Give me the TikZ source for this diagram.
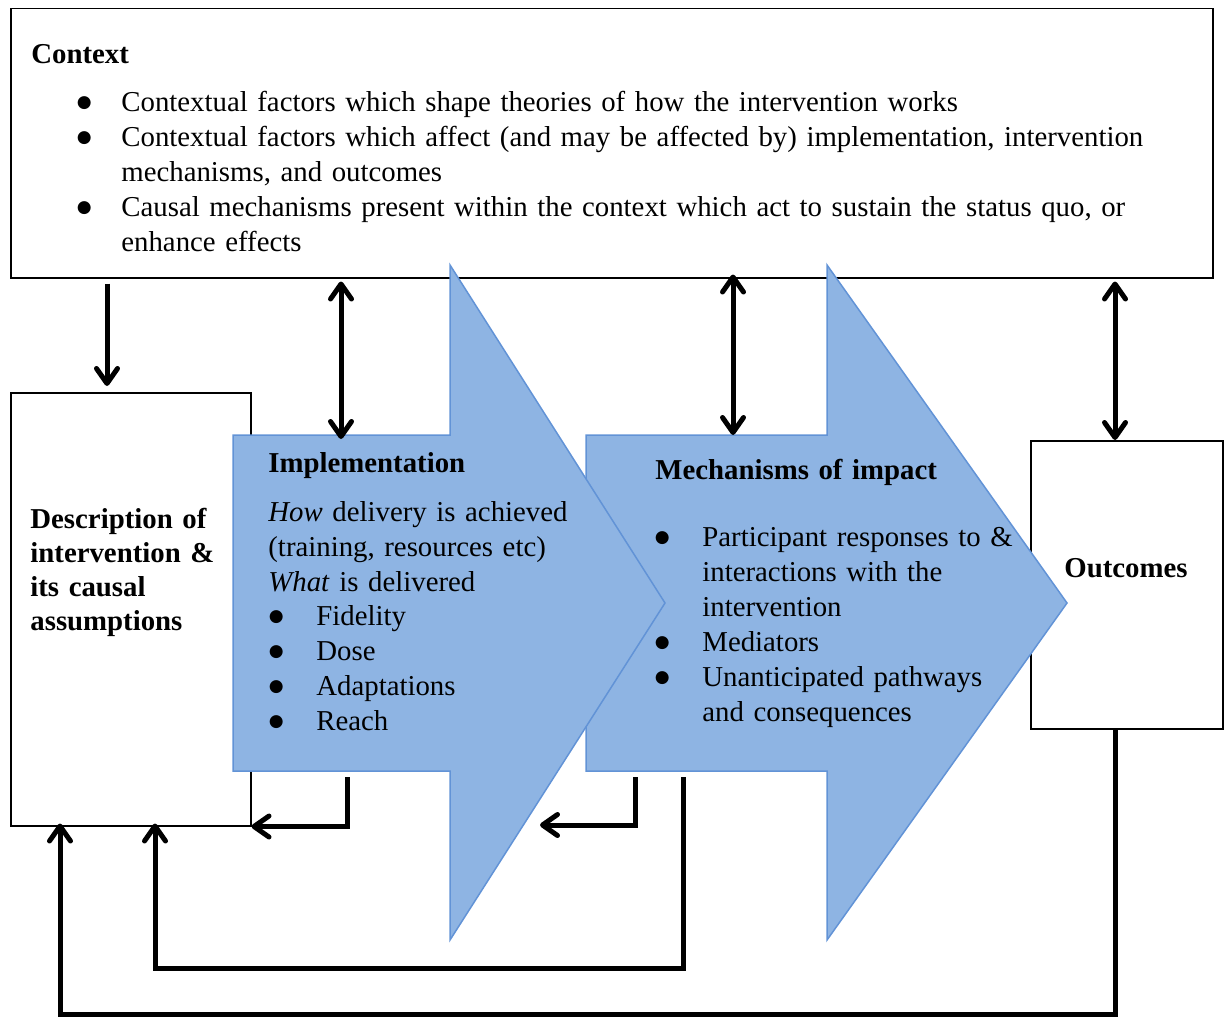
\documentclass[tikz,border=0pt]{standalone}
\usepackage{fontspec}
\setmainfont{Liberation Serif}
\newfontfamily\bulfont{DejaVu Sans}
\usetikzlibrary{arrows.meta}

\definecolor{arrowfill}{HTML}{8EB4E3}
\definecolor{arrowline}{HTML}{6293D6}

\tikzset{
	box/.style={draw, line width=0.75pt, anchor=north west, inner sep=0pt},
	txt/.style={anchor=base west, inner sep=0pt, align=left, text width=#1},
	txt/.default=300pt,
	blockarrow/.style={fill=arrowfill, draw=arrowline, line width=0.75pt},
	conn/.style={line width=2.5pt, -{Straight Barb[length=7.5pt,width=10.5pt,round]}},
	dconn/.style={line width=2.5pt, {Straight Barb[length=7.5pt,width=10.5pt,round]}-{Straight Barb[length=7.5pt,width=10.5pt,round]}}
}
\newcommand{\bul}[1]{\leavevmode\llap{\raisebox{2pt}{\bulfont\fontsize{8.5}{8.5}\selectfont ●}\hspace{#1}}}

\begin{document}
\fontsize{14.4}{17.5}\selectfont
\begin{tikzpicture}[x=0.5pt, y=-0.5pt]
	\useasboundingbox (0,0) rectangle (1229,1016);
	% boxes
	\node[box, minimum width=601pt, minimum height=134.5pt] (ctx) at (10,8) {};
	\node[box, minimum width=120pt, minimum height=216.5pt] (desc) at (10,392) {};
	\node[box, minimum width=96pt, minimum height=144pt] (out) at (1030,440) {};
	% block arrows
	\draw[blockarrow] (586,435) -- (827,435) -- (827,265) -- (1067,603) -- (827,940) -- (827,771) -- (586,771) -- cycle;
	\draw[blockarrow] (233,435) -- (450,435) -- (450,265) -- (665,603) -- (450,940) -- (450,771) -- (233,771) -- cycle;
	\coordinate (imp-top) at (341,435);
	\coordinate (imp-bot) at (347,771);
	\coordinate (imp-back) at (540,825);
	\coordinate (mech-top) at (733,435);
	\coordinate (mech-bot1) at (635,771);
	\coordinate (mech-bot2) at (683,771);
	% context text
	\node[txt=100pt, font=\bfseries] (ctx-head) at (31,64) {Context};
	\node[txt=560pt] (ctx-list) at (121,112) {\bul{14.9pt}Contextual factors which shape theories of how the intervention works\\
		\bul{14.9pt}Contextual factors which affect (and may be affected by) implementation, intervention\\
		mechanisms, and outcomes\\
		\bul{14.9pt}Causal mechanisms present within the context which act to sustain the status quo, or\\
		enhance effects};
	% description
	\node[txt=115pt, font=\bfseries\fontsize{14.4}{17}\selectfont] (desc-txt) at (30,528) {Description of\\ intervention \&\\ its causal\\ assumptions};
	% implementation
	\node[txt=150pt, font=\bfseries] (imp-head) at (268,472) {Implementation};
	\node[txt=160pt] (imp-how) at (268,521) {\textit{How} delivery is achieved\\ (training, resources etc)\\ \textit{What} is delivered};
	\node[txt=120pt] (imp-list) at (316,625) {\bul{16.4pt}Fidelity\\ \bul{16.4pt}Dose\\ \bul{16.4pt}Adaptations\\ \bul{16.4pt}Reach};
	% mechanisms
	\node[txt=180pt, font=\bfseries] (mech-head) at (655,479) {Mechanisms of impact};
	\node[txt=170pt] (mech-list) at (702,546) {\bul{16.4pt}Participant responses to \&\\ interactions with the\\ intervention\\
		\bul{16.4pt}Mediators\\ \bul{16.4pt}Unanticipated pathways\\ and consequences};
	% outcomes
	\node[font=\bfseries, anchor=base, inner sep=0pt] (out-txt) at (1126,577) {Outcomes};
	% connectors
	\draw[conn, shorten <=2.5pt, shorten >=3pt] (ctx.south -| 107,0) -- (desc.north -| 107,0);
	\draw[dconn, shorten <=1.5pt, shorten >=-2pt] (ctx.south -| 341,0) -- (imp-top);
	\draw[dconn, shorten <=-2pt] (ctx.south -| 733,0) -- (mech-top);
	\draw[dconn, shorten <=1.5pt] (ctx.south -| 1115,0) -- (out.north -| 1115,0);
	\draw[conn, shorten <=3pt] (imp-bot) |- (desc.south east);
	\draw[conn, shorten <=3pt] (mech-bot1) |- (imp-back);
	\draw[conn, shorten <=3pt, shorten >=-1.5pt] (mech-bot2) -- (683,968) -| (desc.south -| 155,0);
	\draw[conn, shorten >=-1.5pt] (out.south -| 1115,0) -- (1115,1014) -| (desc.south -| 60,0);
\end{tikzpicture}
\end{document}
